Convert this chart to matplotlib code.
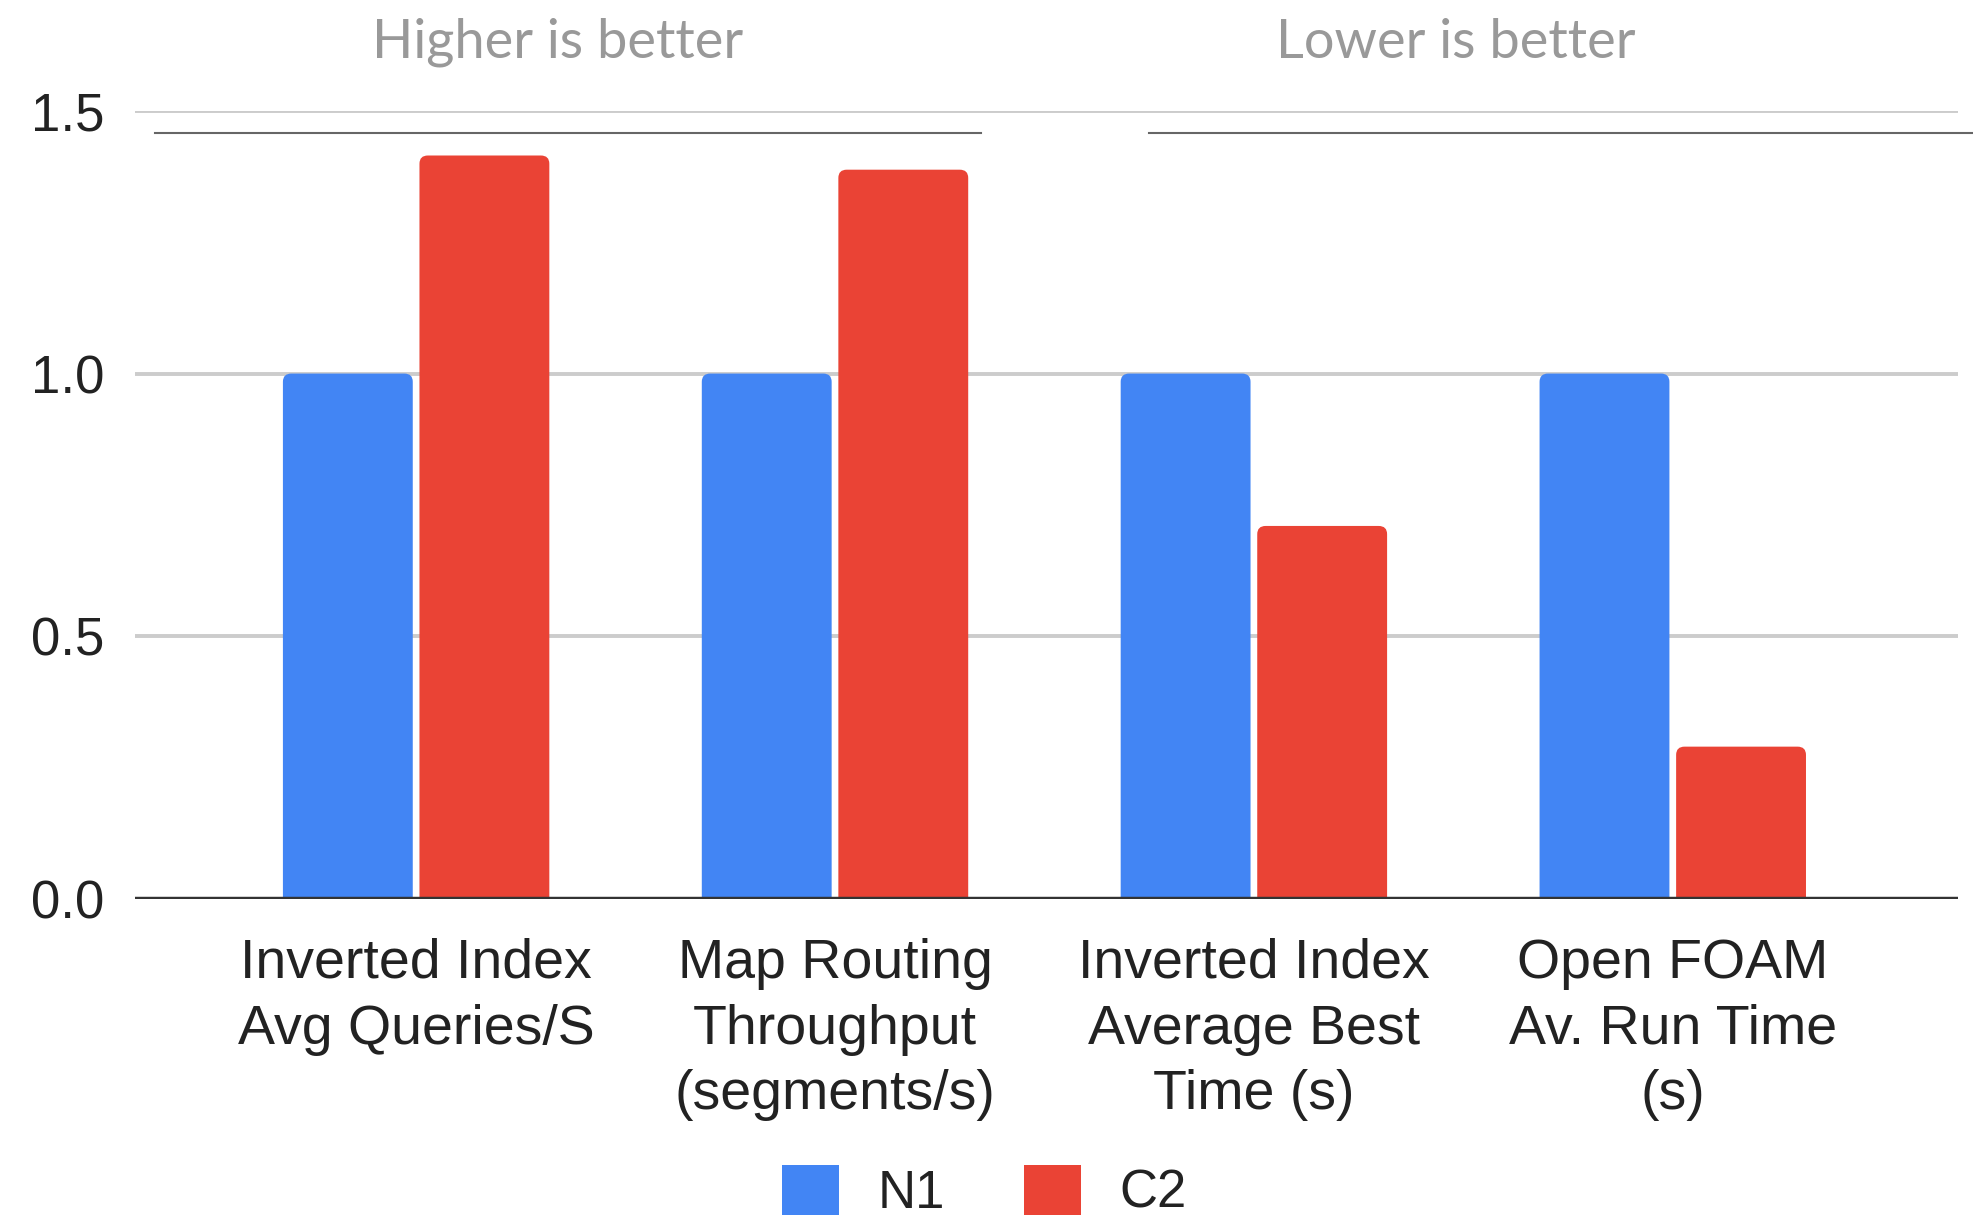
import matplotlib
matplotlib.use("Agg")
import matplotlib.pyplot as plt
from matplotlib.patches import FancyBboxPatch, Patch
import numpy as np

categories = [
    "Inverted Index\nAvg Queries/S",
    "Map Routing\nThroughput\n(segments/s)",
    "Inverted Index\nAverage Best\nTime (s)",
    "Open FOAM\nAv. Run Time\n(s)",
]
series_names = ["N1", "C2"]
n1_values = [1.0, 1.0, 1.0, 1.0]
c2_values = [1.415, 1.388, 0.71, 0.29]
y_ticks = [0.0, 0.5, 1.0, 1.5]
group_titles = ["Higher is better", "Lower is better"]

BLUE = "#4285F4"
RED = "#EA4335"
TEXT = "#222222"

plt.rcParams["font.family"] = ["Liberation Sans", "DejaVu Sans"]

fig = plt.figure(figsize=(19.74, 12.22), dpi=100)
ax = fig.add_axes([0.0682, 0.2643, 0.9917 - 0.0682, 0.9093 - 0.2643])

x = np.arange(len(categories))
width = 0.31
offset = 0.163

ax.set_xlim(-0.672, 3.68)
ax.set_ylim(0, 1.5)

# bars with softly rounded tops; the base extends below zero so only the top corners show
r = 0.02
aspect = 0.78
for vals, sign, color in [(n1_values, -1, BLUE), (c2_values, 1, RED)]:
    bars = ax.bar(x + sign * offset, vals, width, color=color)
    for b in bars:
        x0 = b.get_x()
        w = b.get_width()
        top = b.get_height()
        b.remove()
        p = FancyBboxPatch((x0, -0.05), w, top + 0.05,
                           boxstyle=f"round,pad=0,rounding_size={r}",
                           mutation_aspect=aspect,
                           facecolor=color, edgecolor="none", zorder=3)
        ax.add_patch(p)

# grid and baseline
ax.set_yticks(y_ticks)
ax.set_yticklabels([f"{t:.1f}" for t in y_ticks], fontsize=38, color=TEXT)
for t in y_ticks[1:]:
    ax.axhline(t, color="#cccccc", lw=2.8, zorder=1)
ax.axhline(0, color="#333333", lw=3.2, zorder=4)

ax.set_xticks(x)
ax.set_xticklabels(categories, fontsize=40, color=TEXT, linespacing=1.34)
ax.tick_params(axis="both", length=0)
ax.tick_params(axis="y", pad=22)
ax.tick_params(axis="x", pad=28)
for s in ax.spines.values():
    s.set_visible(False)

# group bracket lines and headings
ax.plot([-0.623, 1.349], [1.458, 1.458], color="#666666", lw=1.5, clip_on=False, zorder=2)
ax.plot([1.75, 3.72], [1.458, 1.458], color="#666666", lw=1.5, clip_on=False, zorder=2)
fig.text(558 / 1974, 1 - 42 / 1222, group_titles[0], fontsize=39, color="#999999",
         ha="center", va="center", family=["Lato", "DejaVu Sans"])
fig.text(1456 / 1974, 1 - 42 / 1222, group_titles[1], fontsize=39, color="#999999",
         ha="center", va="center", family=["Lato", "DejaVu Sans"])

handles = [Patch(facecolor=BLUE, edgecolor="none"), Patch(facecolor=RED, edgecolor="none")]
fig.legend(handles, series_names, loc="center", bbox_to_anchor=(0.4987, 1 - 1192 / 1222),
           ncol=2, frameon=False, fontsize=38, handlelength=1.08, handleheight=1.08,
           handletextpad=0.72, columnspacing=1.5, labelcolor=TEXT,
           borderpad=0, borderaxespad=0)

fig.savefig("out.png", dpi=100, facecolor="white")
